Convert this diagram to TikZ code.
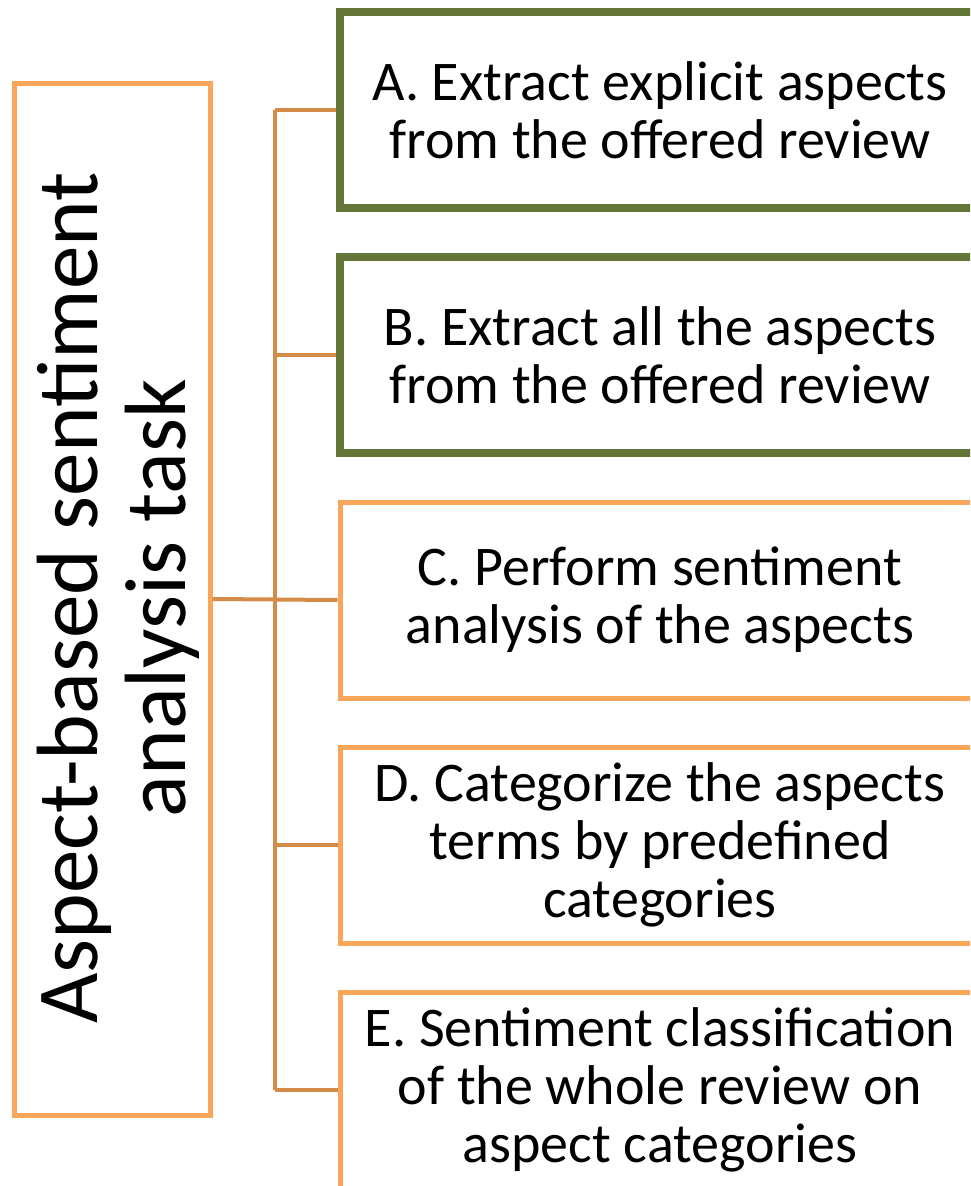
\documentclass[tikz,border=0pt]{standalone}
\usepackage{fontspec}
\setmainfont{Carlito}
\definecolor{boxorange}{HTML}{F9A65A}
\definecolor{boxgreen}{HTML}{637537}
\definecolor{connorange}{HTML}{D38B47}
\begin{document}
\begin{tikzpicture}[x=1pt,y=-1pt,
  rootbox/.style={draw=boxorange,line width=5pt,rectangle,minimum width=196pt,minimum height=1032pt,inner sep=0pt},
  taskbox/.style={rectangle,minimum width=640pt,minimum height=196pt,inner sep=0pt,align=center,
     font=\fontsize{56}{58}\selectfont},
  greenbox/.style={taskbox,draw=boxgreen,line width=8pt},
  orangebox/.style={taskbox,draw=boxorange,line width=5pt},
  conn/.style={draw=connorange,line width=4pt}]
\clip (0,0) rectangle (970,1186);
\fill[white] (0,0) rectangle (970,1186);
\node[rootbox] (root) at (112,599) {};
\node[rotate=90,align=center,font=\fontsize{87}{88}\selectfont] (roottext) at (118,598) {Aspect-based sentiment\\analysis task};
\node[greenbox] (A) at (660,110) {A. Extract explicit aspects\\from the offered review};
\node[greenbox] (B) at (660,355) {B. Extract all the aspects\\from the offered review};
\node[orangebox] (C) at (660,600) {C. Perform sentiment\\analysis of the aspects};
\node[orangebox] (D) at (660,845) {D. Categorize the aspects\\terms by predefined\\categories};
\node[orangebox] (E) at (660,1090) {E. Sentiment classification\\of the whole review on\\aspect categories};
\coordinate (tA) at (275,110);
\coordinate (tE) at (275,1090);
\draw[conn] (tA) -- (tE);
\draw[conn] (root.east) -- (C.west);
\draw[conn] (tA) -- (A.west);
\draw[conn] (275,355) coordinate (tB) -- (B.west);
\draw[conn] (275,845) coordinate (tD) -- (D.west);
\draw[conn] (tE) -- (E.west);
\end{tikzpicture}
\end{document}
